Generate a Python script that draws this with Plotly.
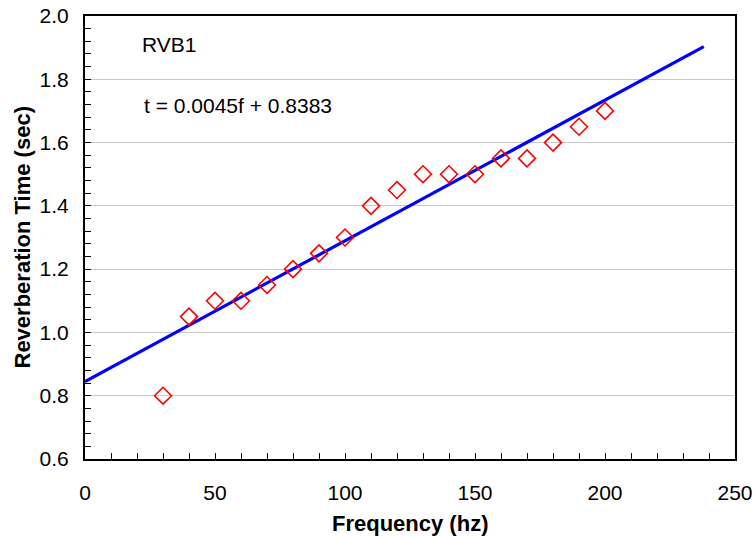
import plotly.graph_objects as go

freq = [30, 40, 50, 60, 70, 80, 90, 100, 110, 120, 130, 140, 150, 160, 170, 180, 190, 200]
rt = [0.80, 1.05, 1.10, 1.10, 1.15, 1.20, 1.25, 1.30, 1.40, 1.45, 1.50, 1.50, 1.50, 1.55, 1.55, 1.60, 1.65, 1.70]
trend_x = [0, 238]
trend_y = [0.845, 1.903]
label_name = "RVB1"
label_eq = "t = 0.0045f + 0.8383"
x_title = "Frequency (hz)"
y_title = "Reverberation Time (sec)"

FONT = "Liberation Sans, Arial, sans-serif"

fig = go.Figure()
fig.add_trace(go.Scatter(x=trend_x, y=trend_y, mode="lines",
                         line=dict(color="#0000FF", width=3.2), showlegend=False))
fig.add_trace(go.Scatter(x=freq, y=rt, mode="markers",
                         marker=dict(symbol="diamond-open", size=13, color="#FF0000",
                                     line=dict(width=1.6, color="#FF0000")),
                         showlegend=False))

fig.add_annotation(x=21.0, y=1.911, xref="x", yref="y", text=label_name, showarrow=False,
                   xanchor="left", yanchor="middle", font=dict(family=FONT, size=21, color="black"))
fig.add_annotation(x=22.0, y=1.716, xref="x", yref="y", text=label_eq, showarrow=False,
                   xanchor="left", yanchor="middle", font=dict(family=FONT, size=21, color="black"))
# axis titles
fig.add_annotation(x=0.5, y=0, xref="paper", yref="paper", yshift=-64, text="<b>%s</b>" % x_title,
                   showarrow=False, xanchor="center", yanchor="middle",
                   font=dict(family=FONT, size=22, color="black"))
fig.add_annotation(x=0, y=0.5, xref="paper", yref="paper", xshift=-63, text="<b>%s</b>" % y_title,
                   showarrow=False, xanchor="center", yanchor="middle", textangle=-90,
                   font=dict(family=FONT, size=22, color="black"))

fig.update_layout(
    width=756, height=537,
    margin=dict(l=85, r=21, t=16, b=78),
    paper_bgcolor="white", plot_bgcolor="white",
    font=dict(family=FONT, size=21, color="black"),
    xaxis=dict(range=[0, 250], dtick=50, tick0=0, ticks="inside", ticklen=6, tickwidth=1,
               tickcolor="black", showgrid=False, zeroline=False, showline=True, linecolor="black",
               linewidth=2, mirror=True, automargin=False, ticklabelstandoff=14,
               ticklabeloverflow="allow",
               minor=dict(dtick=10, ticks="inside", ticklen=6, tickcolor="black", showgrid=False),
               tickfont=dict(size=21)),
    yaxis=dict(range=[0.6, 2.0], dtick=0.2, tick0=0.6, tickformat=".1f", ticks="inside",
               ticklen=6, tickwidth=1, tickcolor="black", showgrid=True, gridcolor="#C8C8C8",
               gridwidth=1, zeroline=False, showline=True, linecolor="black", linewidth=2, mirror=True,
               automargin=False, ticklabelstandoff=10, ticklabeloverflow="allow",
               minor=dict(dtick=0.04, ticks="inside", ticklen=6, tickcolor="black", showgrid=False),
               tickfont=dict(size=21)),
)

fig.write_html("out.html", config={"displayModeBar": False},
               post_script="document.body.style.margin='0';document.body.style.overflow='hidden';")
